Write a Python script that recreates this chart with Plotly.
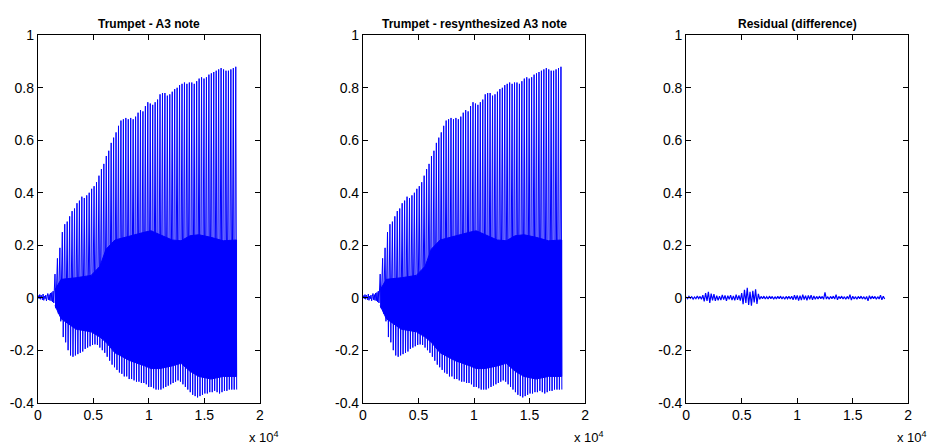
import plotly.graph_objects as go

# ---------------- data ----------------
onset_x_start, onset_step = 0, 60
onset_vals = [0.0, 0.008, -0.004, 0.012, -0.006, 0.010, 0.002, -0.008, 0.014, -0.010,
              0.006, -0.004, 0.010, -0.012, 0.004, 0.016, -0.008, 0.012, -0.010, 0.018,
              -0.012, 0.020, -0.016, 0.025, -0.020, 0.030]

spike_x_start, spike_step = 1550, 220
spike_hi = [0.09, 0.15, 0.19, 0.25, 0.28, 0.29, 0.31, 0.33, 0.34, 0.36,
            0.37, 0.385, 0.38, 0.39, 0.40, 0.415, 0.425, 0.44, 0.465, 0.49,
            0.51, 0.54, 0.56, 0.59, 0.61, 0.63, 0.655, 0.675, 0.68, 0.685,
            0.68, 0.685, 0.68, 0.69, 0.705, 0.715, 0.71, 0.73, 0.745, 0.74,
            0.735, 0.745, 0.755, 0.775, 0.78, 0.78, 0.77, 0.775, 0.785, 0.795,
            0.80, 0.81, 0.815, 0.82, 0.815, 0.82, 0.82, 0.815, 0.825, 0.835,
            0.84, 0.835, 0.84, 0.85, 0.855, 0.86, 0.865, 0.87, 0.875, 0.87,
            0.865, 0.865, 0.87, 0.875, 0.88]
spike_lo = [-0.04, -0.06, -0.09, -0.15, -0.17, -0.20, -0.22, -0.225, -0.22, -0.215,
            -0.21, -0.205, -0.195, -0.19, -0.185, -0.18, -0.178, -0.18, -0.19, -0.20,
            -0.21, -0.225, -0.24, -0.255, -0.265, -0.275, -0.285, -0.29, -0.30, -0.30,
            -0.31, -0.31, -0.315, -0.32, -0.32, -0.325, -0.325, -0.33, -0.34, -0.34,
            -0.345, -0.35, -0.35, -0.35, -0.345, -0.34, -0.335, -0.33, -0.325, -0.32,
            -0.315, -0.32, -0.33, -0.34, -0.35, -0.36, -0.37, -0.375, -0.38, -0.375,
            -0.37, -0.365, -0.365, -0.36, -0.36, -0.355, -0.36, -0.365, -0.36, -0.355,
            -0.355, -0.35, -0.35, -0.35, -0.35]

body_x = [1550, 2100, 3450, 4800, 5600, 6150, 6950, 8300, 9650, 10200,
          11000, 12100, 12900, 13700, 14500, 15600, 16700, 17900]
body_top = [0.03, 0.07, 0.076, 0.085, 0.12, 0.185, 0.22, 0.236, 0.25, 0.255,
            0.24, 0.22, 0.217, 0.236, 0.24, 0.23, 0.217, 0.22]
body_bot = [-0.03, -0.08, -0.12, -0.13, -0.15, -0.17, -0.21, -0.24, -0.26, -0.27,
            -0.27, -0.26, -0.25, -0.28, -0.30, -0.31, -0.30, -0.30]

resid_x_start, resid_step = 0, 125
resid_vals = [0.003, -0.004, 0.005, -0.002, 0.004, -0.005, 0.003, -0.004, 0.006, -0.003, 0.005, -0.006,
              0.010, -0.014, 0.018, -0.012, 0.022, -0.020, 0.016, -0.010, 0.014, -0.012,
              0.008, -0.010, 0.006, -0.009, 0.011, -0.007, 0.009, -0.012, 0.008, -0.006,
              0.010, -0.009, 0.007, -0.010, 0.012, -0.008, 0.009, -0.011,
              0.018, -0.025, 0.030, -0.020, 0.038, -0.028, 0.022, -0.030, 0.026, -0.018,
              0.032, -0.024, 0.015,
              -0.006, 0.005, -0.004, 0.006, -0.005, 0.004, -0.005, 0.006, -0.004, 0.005,
              -0.006, 0.004, -0.005, 0.005, -0.004, 0.006, -0.005, 0.004, -0.006, 0.005,
              -0.004, 0.005, -0.005, 0.006,
              -0.008, 0.010, -0.007, 0.009, -0.011, 0.008, -0.009, 0.012, -0.007, 0.008,
              -0.010, 0.009, -0.006, 0.010, -0.008, 0.007, -0.006, 0.005,
              -0.005, 0.006, -0.004, 0.005, -0.006, 0.020, -0.005, 0.004, -0.006, 0.005,
              -0.004, 0.006, -0.005, 0.012, -0.008, 0.005, -0.004, 0.006, -0.005, 0.004,
              -0.006, 0.005, -0.005, 0.012, -0.009, 0.006, -0.005, 0.004, -0.006, 0.005,
              -0.004, 0.006, -0.005, 0.004, -0.006, 0.005, -0.012, 0.008, -0.005, 0.006,
              -0.004, 0.005, -0.006, 0.004, -0.005, 0.010, -0.008, 0.006, -0.005]

titles = ["Trumpet - A3 note", "Trumpet - resynthesized A3 note", "Residual (difference)"]
xtick_vals = [0, 5000, 10000, 15000, 20000]
xtick_text = ["0", "0.5", "1", "1.5", "2"]
ytick_vals = [-0.4, -0.2, 0, 0.2, 0.4, 0.6, 0.8, 1]
ytick_text = ["-0.4", "-0.2", "0", "0.2", "0.4", "0.6", "0.8", "1"]

# ---------------- build traces ----------------
BLUE = "#0000FF"
W, H = 935, 448

def waveform():
    xs, ys = [], []
    for k, v in enumerate(onset_vals):
        xs.append(onset_x_start + k * onset_step)
        ys.append(v)
    for k, (hi, lo) in enumerate(zip(spike_hi, spike_lo)):
        x0 = spike_x_start + k * spike_step
        xs += [x0, x0 + 80]
        ys += [hi, lo]
    return xs, ys

def body():
    return body_x + body_x[::-1], body_top + body_bot[::-1]

fig = go.Figure()
wx, wy = waveform()
bx, by = body()
for i in (1, 2):
    ax = "" if i == 1 else str(i)
    fig.add_trace(go.Scatter(x=bx, y=by, fill="toself", fillcolor=BLUE, mode="lines",
                             line=dict(color=BLUE, width=1), xaxis="x" + ax, yaxis="y" + ax,
                             hoverinfo="skip", showlegend=False))
    fig.add_trace(go.Scatter(x=wx, y=wy, mode="lines", line=dict(color=BLUE, width=1),
                             xaxis="x" + ax, yaxis="y" + ax, showlegend=False))

rx = [resid_x_start + k * resid_step for k in range(len(resid_vals))]
fig.add_trace(go.Scatter(x=rx, y=resid_vals, mode="lines", line=dict(color=BLUE, width=1.2),
                         xaxis="x3", yaxis="y3", showlegend=False))

# ---------------- layout ----------------
lefts = [26, 354, 680]
width_px = 224
top_px, bot_px = 20, 401
ydom = [1 - bot_px / H, 1 - top_px / H]

font = dict(family="Liberation Sans, Arial, sans-serif", size=14, color="black")
layout = dict(width=W, height=H, margin=dict(l=0, r=0, t=0, b=0),
              plot_bgcolor="white", paper_bgcolor="white", font=font, showlegend=False)
annotations = []
for i, L in enumerate(lefts):
    n = "" if i == 0 else str(i + 1)
    dom = [L / W, (L + width_px) / W]
    layout["xaxis" + n] = dict(domain=dom, range=[0, 20000], tickvals=xtick_vals,
                               ticktext=xtick_text, ticks="inside", ticklen=5,
                               tickcolor="black", showline=True, linecolor="black",
                               linewidth=1, mirror="ticks", showgrid=False, zeroline=False,
                               anchor="y" + n, fixedrange=True)
    layout["yaxis" + n] = dict(domain=ydom, range=[-0.4, 1], tickvals=ytick_vals,
                               ticktext=ytick_text, ticks="inside", ticklen=5,
                               tickcolor="black", showline=True, linecolor="black",
                               linewidth=1, mirror="ticks", showgrid=False, zeroline=False,
                               anchor="x" + n, fixedrange=True)
    annotations.append(dict(text="<b>" + titles[i] + "</b>", xref="paper", yref="paper",
                            x=(L + width_px / 2) / W, y=1 - 8 / H, xanchor="center",
                            yanchor="middle", showarrow=False,
                            font=dict(family="Liberation Sans, Arial, sans-serif", size=12,
                                      color="black")))
    annotations.append(dict(text="x 10<sup>4</sup>", xref="paper", yref="paper",
                            x=(L + width_px + 21) / W, y=1 - 447 / H, xanchor="right",
                            yanchor="bottom", showarrow=False,
                            font=dict(family="Liberation Sans, Arial, sans-serif", size=13,
                                      color="black")))
layout["annotations"] = annotations
fig.update_layout(**layout)

fig.write_html("out.html")
